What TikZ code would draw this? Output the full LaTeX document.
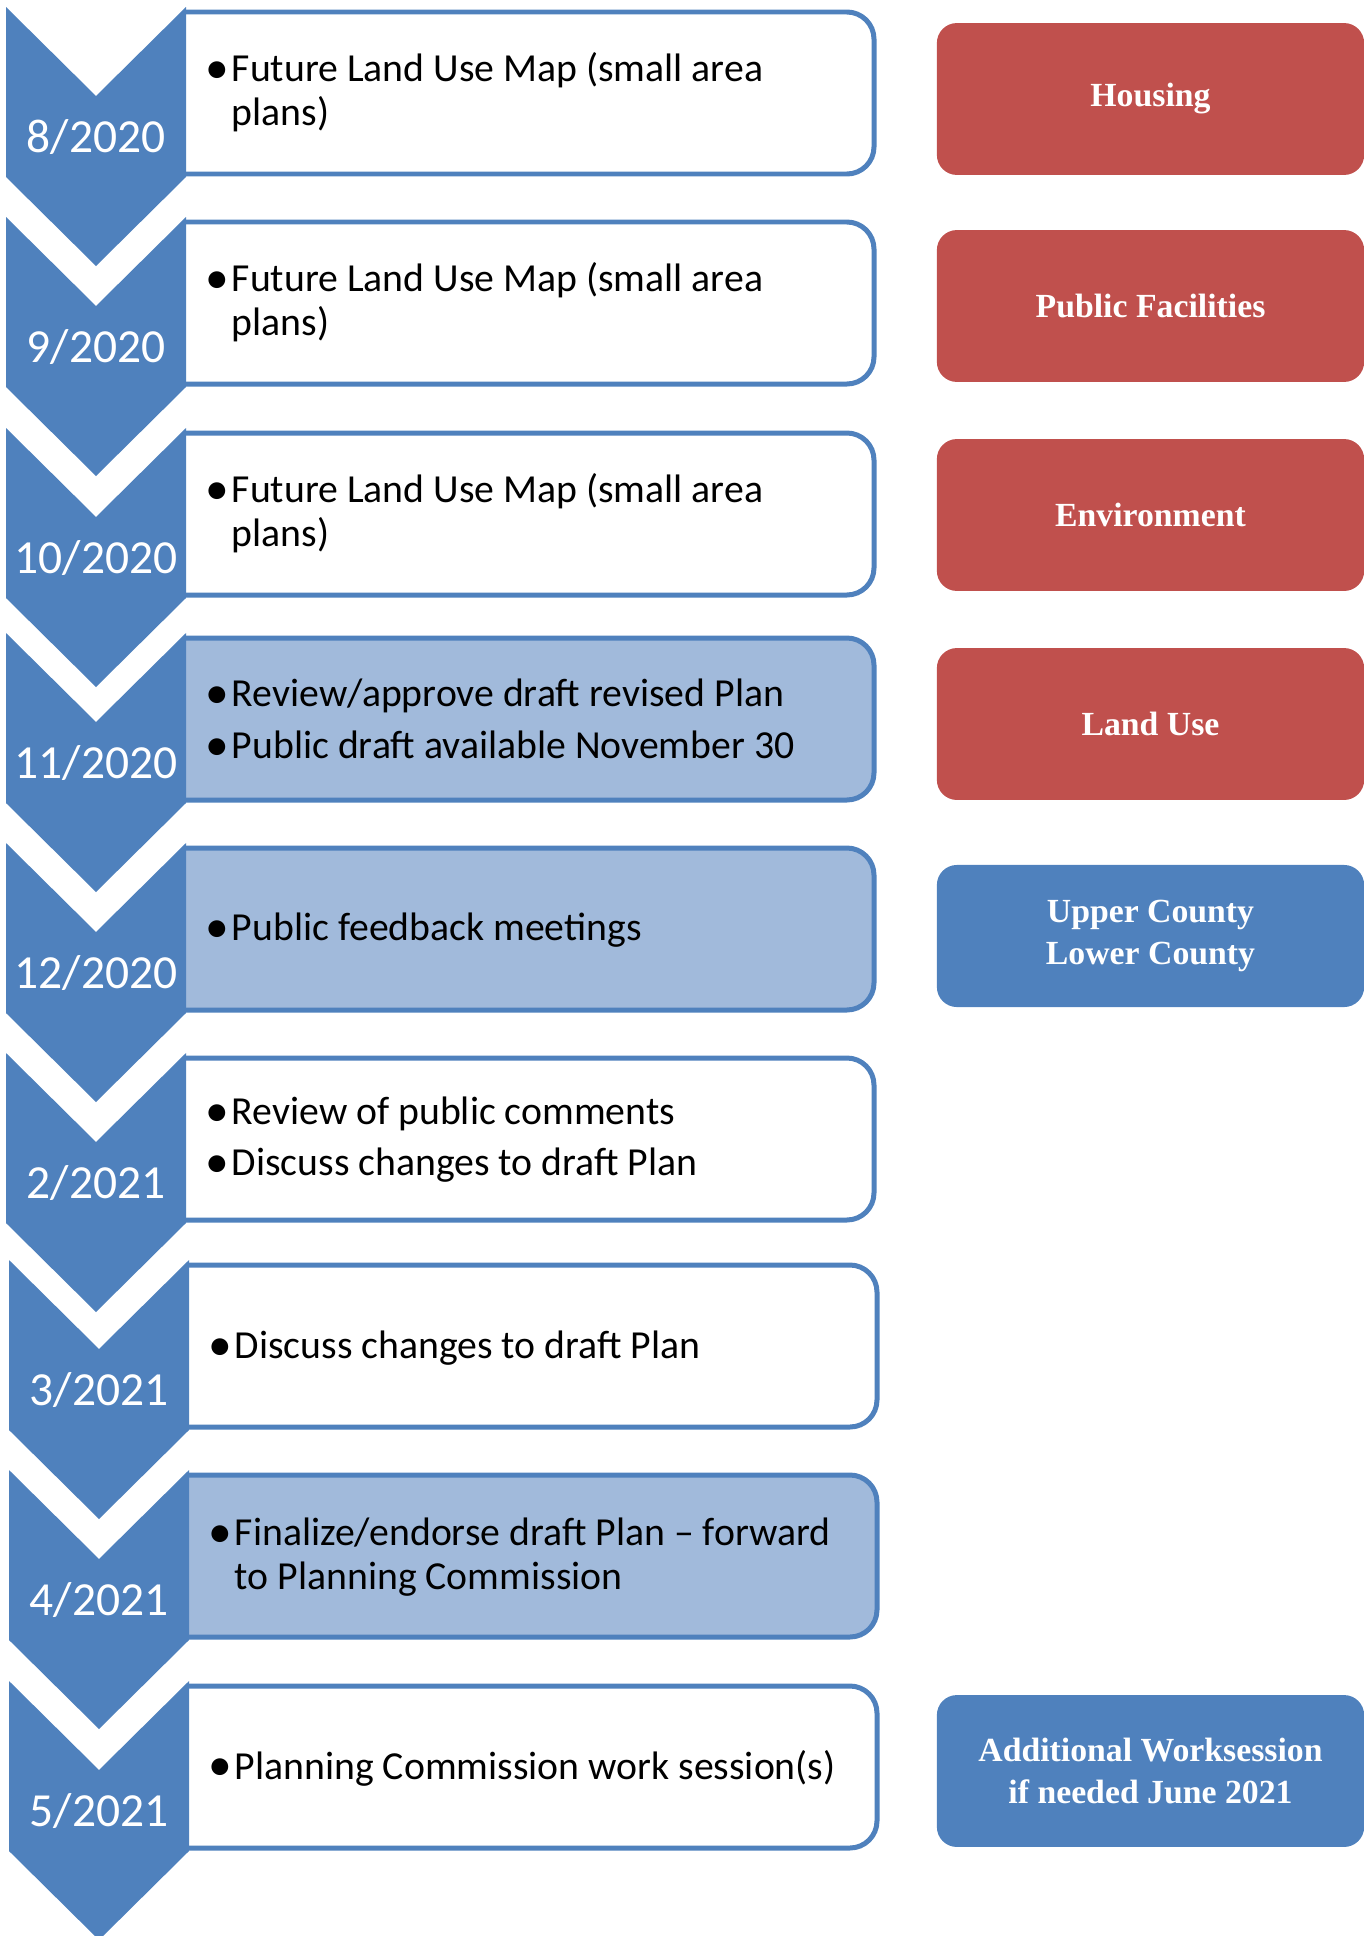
\documentclass[tikz,border=0pt]{standalone}
\usepackage{fontspec}
\setmainfont{Carlito}
\newfontfamily\topicfont{Liberation Serif}

\definecolor{chevblue}{RGB}{79,129,189}
\definecolor{topicred}{RGB}{192,80,77}
\definecolor{paleblue}{RGB}{161,186,219}

\newcommand{\bul}{\makebox[6.3pt][l]{\hspace*{-1.1pt}\raisebox{-0.5pt}{\fontsize{13.5pt}{13.5pt}\selectfont•}}}
\newcommand{\bulind}{\hspace*{6.3pt}}

\tikzset{
  chev/.style={fill=chevblue},
  itembox/.style={draw=chevblue, line width=1.42pt, rounded corners=7.7pt, fill=white},
  itempale/.style={itembox, fill=paleblue},
  datelbl/.style={text=white, inner sep=0pt, font=\fontsize{13.5pt}{16pt}\selectfont},
  itemtxt/.style={anchor=west, align=left, inner sep=0pt, font=\fontsize{11.3pt}{12.5pt}\selectfont},
  topic/.style={rounded corners=5.7pt, minimum width=121.5pt, minimum height=43.2pt,
    inner sep=0pt, text=white, align=center, font=\topicfont\bfseries\fontsize{9.6pt}{12pt}\selectfont},
  topicred/.style={topic, fill=topicred},
  topicblue/.style={topic, fill=chevblue}
}

\begin{document}
\begin{tikzpicture}[x=0.01cm, y=-0.01cm]
            \useasboundingbox (0,0) rectangle (1364,1936);

            %Boxes
            \draw[itembox]  (186,12)   -- (874,12)   -- (874,174)  -- (186,174);
            \draw[itembox]  (186,222)  -- (874,222)  -- (874,384)  -- (186,384);
            \draw[itembox]  (186,433)  -- (874,433)  -- (874,595)  -- (186,595);
            \draw[itempale] (186,638)  -- (874,638)  -- (874,800)  -- (186,800);
            \draw[itempale] (186,848)  -- (874,848)  -- (874,1010) -- (186,1010);
            \draw[itembox]  (186,1058) -- (874,1058) -- (874,1220) -- (186,1220);
            \draw[itembox]  (189,1265) -- (877,1265) -- (877,1427) -- (189,1427);
            \draw[itempale] (189,1475) -- (877,1475) -- (877,1637) -- (189,1637);
            \draw[itembox]  (189,1686) -- (877,1686) -- (877,1848) -- (189,1848);

            %Chevrons
            \fill[chev] (6,7)    -- (96,96)   -- (186,7)    -- (186,177)  -- (96,266)  -- (6,177)  -- cycle;
            \fill[chev] (6,217)  -- (96,306)  -- (186,217)  -- (186,387)  -- (96,476)  -- (6,387)  -- cycle;
            \fill[chev] (6,428)  -- (96,517)  -- (186,428)  -- (186,598)  -- (96,687)  -- (6,598)  -- cycle;
            \fill[chev] (6,633)  -- (96,722)  -- (186,633)  -- (186,803)  -- (96,892)  -- (6,803)  -- cycle;
            \fill[chev] (6,843)  -- (96,932)  -- (186,843)  -- (186,1013) -- (96,1102) -- (6,1013) -- cycle;
            \fill[chev] (6,1053) -- (96,1142) -- (186,1053) -- (186,1223) -- (96,1312) -- (6,1223) -- cycle;
            \fill[chev] (9,1260) -- (99,1349) -- (189,1260) -- (189,1430) -- (99,1519) -- (9,1430) -- cycle;
            \fill[chev] (9,1470) -- (99,1559) -- (189,1470) -- (189,1640) -- (99,1729) -- (9,1640) -- cycle;
            \fill[chev] (9,1681) -- (99,1770) -- (189,1681) -- (189,1851) -- (99,1940) -- (9,1851) -- cycle;

            %Dates
            \node[datelbl] at (96,137)  (aug20) {8/2020};
            \node[datelbl] at (96,347)  (sep20) {9/2020};
            \node[datelbl] at (96,558)  (oct20) {10/2020};
            \node[datelbl] at (96,763)  (nov20) {11/2020};
            \node[datelbl] at (96,973)  (dec20) {12/2020};
            \node[datelbl] at (96,1183) (feb21) {2/2021};
            \node[datelbl] at (99,1390) (mar21) {3/2021};
            \node[datelbl] at (99,1600) (apr21) {4/2021};
            \node[datelbl] at (99,1811) (may21) {5/2021};

            %Items
            \node[itemtxt] at (209,92)   (aug20t) {\bul Future Land Use Map (small area\\ \bulind plans)};
            \node[itemtxt] at (209,302)  (sep20t) {\bul Future Land Use Map (small area\\ \bulind plans)};
            \node[itemtxt] at (209,513)  (oct20t) {\bul Future Land Use Map (small area\\ \bulind plans)};
            \node[itemtxt] at (209,720)  (nov20t) {\bul Review/approve draft revised Plan\\[2.3pt] \bul Public draft available November 30};
            \node[itemtxt] at (209,930)  (dec20t) {\bul Public feedback meetings};
            \node[itemtxt] at (209,1140) (feb21t) {\bul Review of public comments\\[2pt] \bul Discuss changes to draft Plan};
            \node[itemtxt] at (212,1348) (mar21t) {\bul Discuss changes to draft Plan};
            \node[itemtxt] at (212,1557) (apr21t) {\bul Finalize/endorse draft Plan – forward\\ \bulind to Planning Commission};
            \node[itemtxt] at (212,1768) (may21t) {\bul Planning Commission work session(s)};

            %Topics
            \node[topicred]  at (1150.5,99)   (housing) {Housing};
            \node[topicred]  at (1150.5,306)  (pubfac)  {Public Facilities};
            \node[topicred]  at (1150.5,515)  (environ) {Environment};
            \node[topicred]  at (1150.5,724)  (landuse) {Land Use};
            \node[topicblue, minimum height=40.4pt] at (1150.5,936) (county) {Upper County\\Lower County};
            \node[topicblue] at (1150.5,1771) (extra)   {Additional Worksession\\if needed June 2021};
\end{tikzpicture}
\end{document}
